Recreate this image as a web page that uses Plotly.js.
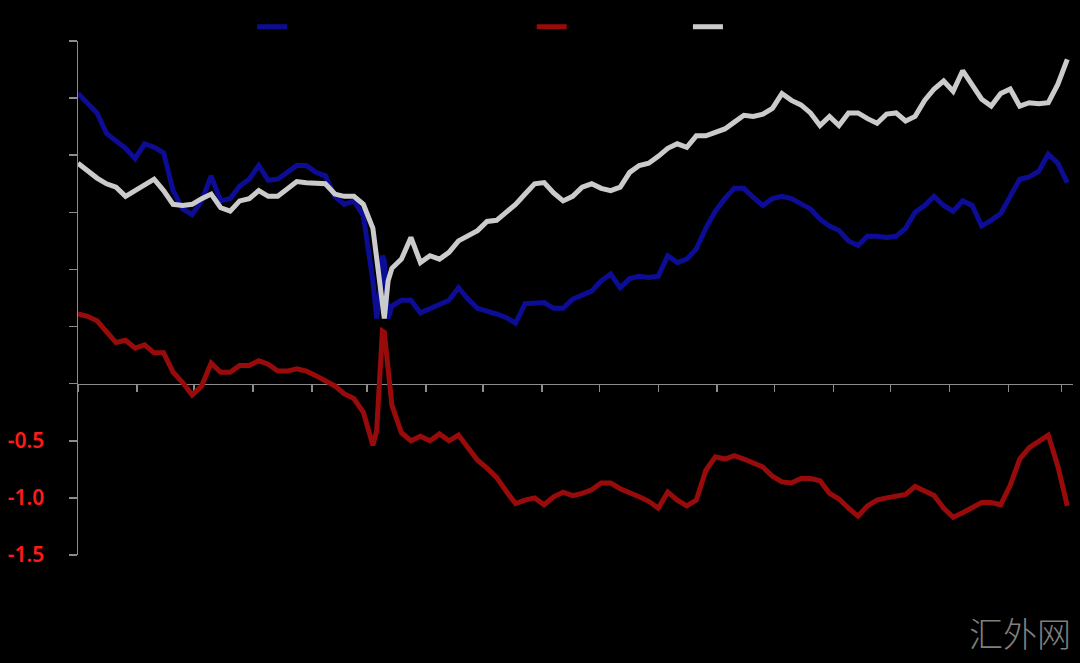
<!DOCTYPE html>
<html>
<head>
<meta charset="utf-8">
<script src="https://cdn.plot.ly/plotly-3.0.1.min.js"></script>
<style>html,body{margin:0;padding:0;background:#000;}#chart{width:1080px;height:663px;}</style>
</head>
<body>
<div id="chart"></div>
<script>
const dates = [
"2019-10-01","2019-10-06","2019-10-11","2019-10-16","2019-10-21","2019-10-26","2019-10-31",
"2019-11-05","2019-11-10","2019-11-15","2019-11-20","2019-11-25","2019-11-30",
"2019-12-05","2019-12-10","2019-12-15","2019-12-20","2019-12-25","2019-12-30",
"2020-01-04","2020-01-09","2020-01-14","2020-01-19","2020-01-24","2020-01-29",
"2020-02-03","2020-02-08","2020-02-13","2020-02-18","2020-02-23","2020-02-28",
"2020-03-04","2020-03-06","2020-03-08","2020-03-09","2020-03-10","2020-03-12","2020-03-14",
"2020-03-19","2020-03-24","2020-03-29","2020-04-03","2020-04-08","2020-04-13","2020-04-18",
"2020-04-23","2020-04-28","2020-05-03","2020-05-08","2020-05-13","2020-05-18","2020-05-23",
"2020-05-28","2020-06-02","2020-06-07","2020-06-12","2020-06-17","2020-06-22","2020-06-27",
"2020-07-02","2020-07-07","2020-07-12","2020-07-17","2020-07-22","2020-07-27","2020-08-01",
"2020-08-06","2020-08-11","2020-08-16","2020-08-21","2020-08-26","2020-08-31","2020-09-05",
"2020-09-10","2020-09-15","2020-09-20","2020-09-25","2020-09-30","2020-10-05","2020-10-10",
"2020-10-15","2020-10-20","2020-10-25","2020-10-30","2020-11-04","2020-11-09","2020-11-14",
"2020-11-19","2020-11-24","2020-11-29","2020-12-04","2020-12-09","2020-12-14","2020-12-19",
"2020-12-24","2020-12-29","2021-01-03","2021-01-08","2021-01-13","2021-01-18","2021-01-23",
"2021-01-28","2021-02-02","2021-02-07","2021-02-12","2021-02-17","2021-02-22","2021-02-27",
"2021-03-04"
];

const seriesBlue = [
2.54,2.45,2.37,2.19,2.12,2.06,1.97,
2.10,2.07,2.02,1.69,1.53,1.48,
1.60,1.82,1.60,1.62,1.73,1.79,
1.91,1.78,1.79,1.85,1.91,1.91,
1.85,1.82,1.64,1.57,1.60,1.47,
0.90,0.57,0.86,1.12,1.08,0.57,0.68,
0.73,0.73,0.62,0.66,0.69,0.73,0.84,
0.74,0.66,0.64,0.61,0.58,0.53,0.70,
0.71,0.71,0.66,0.66,0.74,0.77,0.81,
0.90,0.96,0.84,0.92,0.94,0.93,0.94,
1.12,1.06,1.09,1.18,1.36,1.51,1.62,
1.71,1.71,1.63,1.56,1.62,1.64,1.62,
1.57,1.53,1.44,1.38,1.34,1.25,1.21,
1.29,1.29,1.28,1.29,1.36,1.50,1.56,
1.64,1.56,1.51,1.60,1.56,1.38,1.43,
1.49,1.64,1.79,1.81,1.86,2.01,1.93,
1.76
];

const seriesGrey = [
1.93,1.86,1.80,1.75,1.72,1.64,1.69,
1.73,1.79,1.69,1.57,1.56,1.57,
1.62,1.66,1.54,1.51,1.60,1.62,
1.69,1.64,1.64,1.71,1.77,1.76,
1.75,1.75,1.66,1.64,1.64,1.57,
1.36,1.12,0.81,0.73,0.57,0.90,1.01,
1.09,1.28,1.06,1.12,1.09,1.15,1.25,
1.29,1.34,1.42,1.43,1.50,1.57,1.66,
1.75,1.76,1.67,1.60,1.64,1.72,1.75,
1.71,1.69,1.72,1.85,1.91,1.93,1.99,
2.06,2.10,2.07,2.17,2.17,2.20,2.23,
2.29,2.35,2.34,2.36,2.41,2.54,2.48,
2.44,2.37,2.26,2.34,2.26,2.37,2.37,
2.32,2.28,2.36,2.37,2.30,2.34,2.48,
2.58,2.65,2.56,2.74,2.61,2.49,2.43,
2.54,2.58,2.43,2.46,2.45,2.46,2.62,
2.84
];

const seriesRed = [
0.61,0.59,0.55,0.46,0.36,0.38,0.31,
0.34,0.27,0.27,0.10,0.01,-0.10,
-0.02,0.18,0.10,0.10,0.16,0.16,
0.20,0.17,0.11,0.11,0.13,0.11,
0.07,0.03,-0.02,-0.09,-0.13,-0.25,
-0.54,-0.41,0.20,0.46,0.45,0.07,-0.19,
-0.43,-0.50,-0.46,-0.50,-0.44,-0.50,-0.45,
-0.56,-0.67,-0.74,-0.82,-0.94,-1.05,-1.02,
-1.00,-1.06,-0.99,-0.95,-0.98,-0.96,-0.93,
-0.87,-0.87,-0.92,-0.95,-0.99,-1.03,-1.09,
-0.95,-1.02,-1.07,-1.02,-0.76,-0.64,-0.66,
-0.63,-0.66,-0.69,-0.73,-0.81,-0.86,-0.87,
-0.83,-0.83,-0.85,-0.96,-1.01,-1.09,-1.16,
-1.07,-1.02,-1.00,-0.98,-0.97,-0.90,-0.94,
-0.98,-1.09,-1.17,-1.13,-1.08,-1.04,-1.04,
-1.06,-0.89,-0.66,-0.56,-0.50,-0.45,-0.72,
-1.07
];

const seriesNames = ["美国10年期国债收益率（%）", "利差（%）", "美国30年期国债收益率（%）"];
const yTickVals = [-1.5, -1.0, -0.5, 0.0, 0.5, 1.0, 1.5, 2.0, 2.5, 3.0];
const yTickText = yTickVals.map(v => v < 0
  ? '<span style="color:#ff1a1a">' + v.toFixed(1) + '</span>'
  : v.toFixed(1));

const axisGrey = "#8c8c8c";

const traces = [
  {x: dates, y: seriesBlue, name: seriesNames[0], type: "scatter", mode: "lines",
   line: {color: "#0c0c94", width: 5}, legend: "legend"},
  {x: dates, y: seriesRed, name: seriesNames[1], type: "scatter", mode: "lines",
   line: {color: "#990b0b", width: 5}, legend: "legend2"},
  {x: dates, y: seriesGrey, name: seriesNames[2], type: "scatter", mode: "lines",
   line: {color: "#cbcbcb", width: 5}, legend: "legend3"}
];

const legendBase = {orientation: "h", yanchor: "middle", y: 1.027, xanchor: "left",
  bgcolor: "rgba(0,0,0,0)", font: {family: "Noto Sans CJK SC", size: 14, color: "#000000"}};

const layout = {
  width: 1080, height: 663,
  paper_bgcolor: "#000000", plot_bgcolor: "#000000",
  margin: {l: 78, r: 7, t: 41, b: 108},
  showlegend: true,
  legend: Object.assign({}, legendBase, {x: 0.175}),
  legend2: Object.assign({}, legendBase, {x: 0.456}),
  legend3: Object.assign({}, legendBase, {x: 0.613}),
  xaxis: {
    type: "date", range: ["2019-10-01", "2021-03-07"],
    tick0: "2019-10-01", dtick: "M1", tickformat: "%Y-%m",
    anchor: "free", position: 1/3, layer: "below traces",
    showline: true, linecolor: axisGrey, linewidth: 1.5,
    ticks: "outside", ticklen: 7, tickcolor: axisGrey, tickwidth: 1.5,
    showgrid: false, zeroline: false, ticklabelstandoff: 180,
    tickfont: {family: "Noto Sans", size: 12, color: "#000000"}
  },
  yaxis: {
    range: [-1.5, 3.0], tickvals: yTickVals, ticktext: yTickText,
    layer: "below traces",
    showline: true, linecolor: axisGrey, linewidth: 1.5,
    ticks: "outside", ticklen: 8, tickcolor: axisGrey, tickwidth: 1.5,
    showgrid: false, zeroline: false, ticklabelstandoff: 20,
    tickfont: {family: "Noto Sans", size: 21, color: "#000000", weight: 600}
  },
  annotations: [{
    xref: "paper", yref: "paper", x: 1.0, y: -0.15, xanchor: "right", yanchor: "middle",
    text: "汇外网", showarrow: false,
    font: {family: "Noto Sans CJK SC", size: 34, color: "#808080", weight: 300}
  }]
};

Plotly.newPlot("chart", traces, layout, {displayModeBar: false, staticPlot: true});
</script>
</body>
</html>
